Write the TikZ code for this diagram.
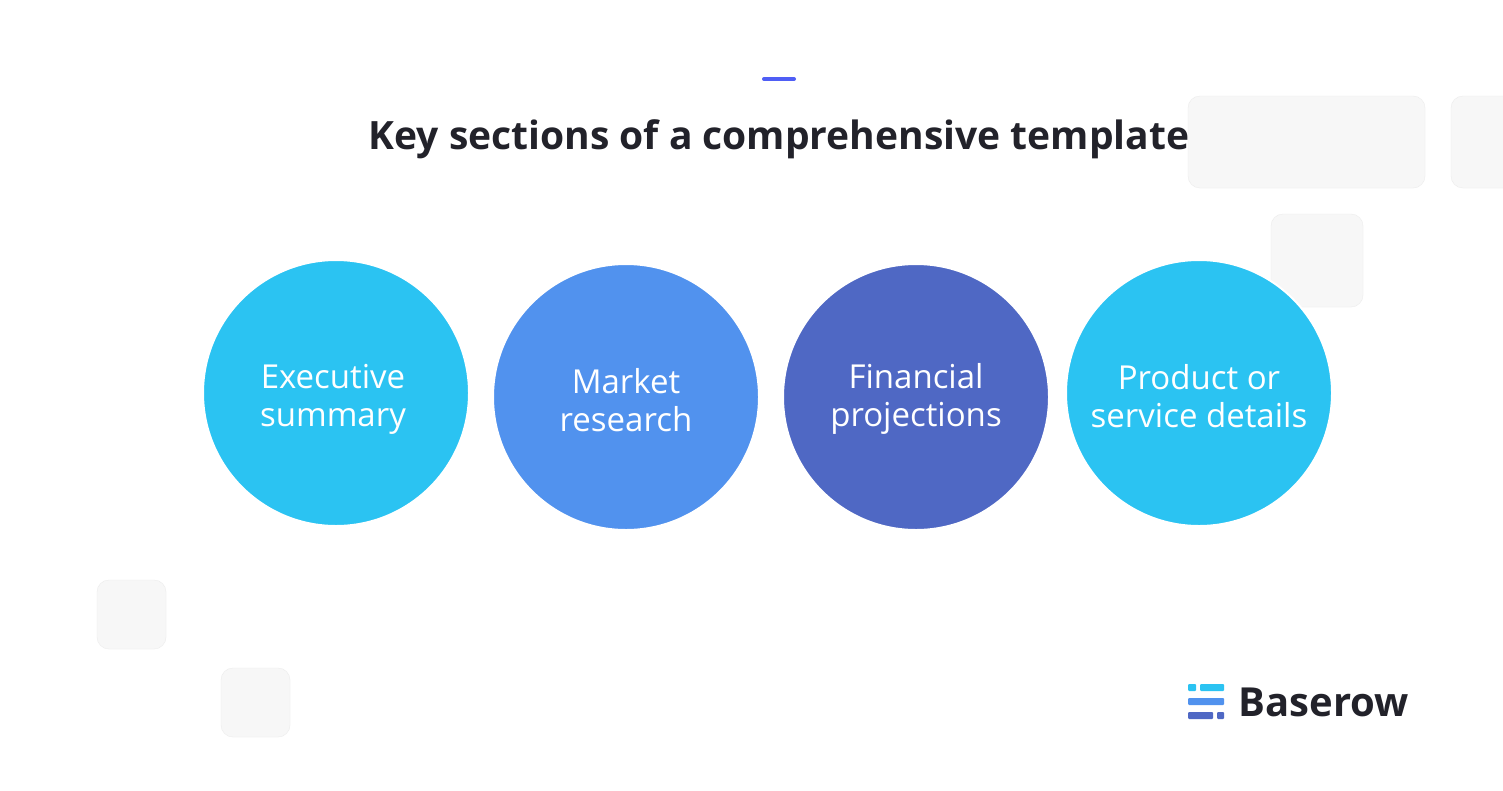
\documentclass[tikz,border=0pt]{standalone}
\usepackage{fontspec}
\setmainfont{Open Sans}
\definecolor{cyanc}{HTML}{2BC3F2}
\definecolor{bluec}{HTML}{5192EE}
\definecolor{indigoc}{HTML}{4F68C4}
\definecolor{accent}{HTML}{4F5EF5}
\definecolor{tilec}{HTML}{F7F7F7}
\definecolor{tileline}{HTML}{ECECEC}
\definecolor{inkc}{HTML}{22222A}
\begin{document}
\begin{tikzpicture}[x=1pt,y=-1pt,
section/.style={%
circle,
minimum size=266pt,
draw=white,
line width=2pt,
text=white,
align=center,
font=\fontsize{33}{38}\selectfont,
},
tile/.style={%
fill=tilec,
draw=tileline,
rounded corners=12pt,
},
]
\useasboundingbox[fill=white](0,0) rectangle (1503,790);
%% background tiles
\draw[tile](1188,96) rectangle (1425,188);
\draw[tile](1451,96) rectangle (1530,188);
\draw[tile](1271,214) rectangle (1363,307);
\draw[tile](97,580) rectangle (166,649);
\draw[tile](221,668) rectangle (290,737);
%% title
\draw[accent,line width=4pt,line cap=round](764,79) -- (794,79);
\node[text=inkc,font=\fontsize{39}{44}\selectfont\bfseries](title)at(779,139){Key sections of a comprehensive template};
%% sections
\node[section,fill=cyanc](s1)at(336,393){};
\node[section,fill=bluec](s2)at(626,397){};
\node[section,fill=indigoc](s3)at(916,397){};
\node[section,fill=cyanc](s4)at(1199,393){};
\node[section,draw=none](t1)at(333,399){Executive\\summary};
\node[section,draw=none](t2)at(626,400){Market\\research};
\node[section,draw=none](t3)at(916,399){Financial\\projections};
\node[section,draw=none](t4)at(1199,396){Product or\\service details};
%% logo
\fill[cyanc,rounded corners=1pt](1188,684) rectangle (1196,691);
\fill[cyanc,rounded corners=1pt](1200,684) rectangle (1224,691);
\fill[bluec,rounded corners=1pt](1188,698) rectangle (1224,705);
\fill[indigoc,rounded corners=1pt](1188,712) rectangle (1213,719);
\fill[indigoc,rounded corners=1pt](1217,712) rectangle (1224,719);
\node[anchor=west,text=inkc,font=\fontsize{40}{44}\selectfont\bfseries](logo)at(1235,702){Baserow};
\end{tikzpicture}
\end{document}
